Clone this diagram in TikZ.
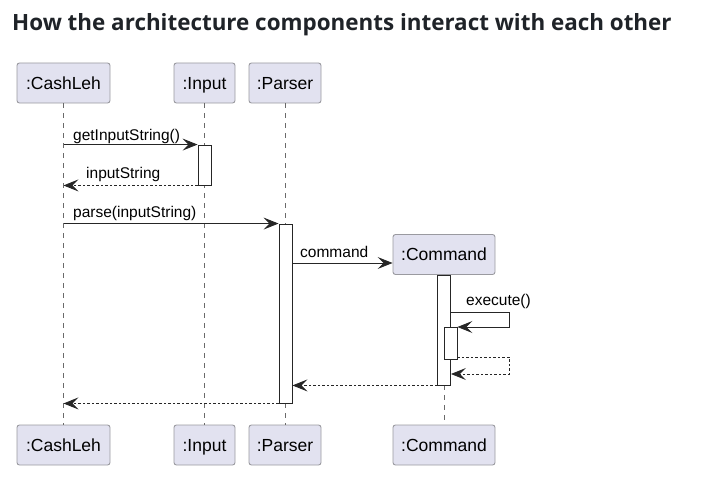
\documentclass[tikz,border=0pt]{standalone}
\usepackage{fontspec}
\setmainfont{Liberation Sans}
\newfontfamily\titlefont{Open Sans}
\usetikzlibrary{arrows.meta}
\definecolor{boxfill}{HTML}{E2E2F0}
\definecolor{boxline}{HTML}{9A9AA0}
\definecolor{titlecol}{HTML}{1F2328}
\definecolor{lifecol}{HTML}{6A6A6A}
\tikzset{
  part/.style={draw=boxline, fill=boxfill, rounded corners=2.5pt, line width=0.9pt,
    minimum height=40pt, inner sep=0pt, text height=12.5pt, text depth=0pt,
    font=\fontsize{17.5}{17.5}\selectfont, text=black},
  act/.style={draw=black!85, fill=white, line width=0.9pt, minimum width=13pt, inner sep=0pt},
  life/.style={draw=lifecol, line width=0.7pt, dash pattern=on 5pt off 5pt},
  msg/.style={draw=black!85, line width=0.9pt, -{Stealth[length=15pt,width=12pt,inset=6pt]}},
  ret/.style={msg, dash pattern=on 2.5pt off 2pt},
  lbl/.style={font=\fontsize{15.5}{15.5}\selectfont, inner sep=0pt, anchor=base west}
}
\begin{document}
\begin{tikzpicture}[x=1pt,y=-1pt]
\useasboundingbox (0,0) rectangle (701,487);
\node[anchor=base west, inner sep=0pt, text=titlecol, font=\titlefont\bfseries\fontsize{22.4}{22.4}\selectfont] (title) at (12,31) {How the architecture components interact with each other};
% participants
\node[part, minimum width=93pt] (c1) at (63.5,83) {:CashLeh};
\node[part, minimum width=61pt] (i1) at (204.5,83) {:Input};
\node[part, minimum width=72pt] (p1) at (285,83) {:Parser};
\node[part, minimum width=102pt] (k1) at (444,254.5) {:Command};
\node[part, minimum width=93pt] (c2) at (63.5,445) {:CashLeh};
\node[part, minimum width=61pt] (i2) at (204.5,445) {:Input};
\node[part, minimum width=72pt] (p2) at (285,445) {:Parser};
\node[part, minimum width=102pt] (k2) at (444,445) {:Command};
% lifelines
\draw[life] (c1.south) -- (c2.north);
\draw[life] (i1.south) -- (i2.north);
\draw[life] (p1.south) -- (p2.north);
\draw[life] (k1.south) -- (k2.north);
% activations
\node[act, minimum height=40pt] (a1) at (204.5,165) {};
\node[act, minimum height=179pt] (a2) at (285.5,313.5) {};
\node[act, minimum height=110pt] (a3) at (444,330) {};
\node[act, minimum height=32pt] (a4) at (450.5,343) {};
% messages
\draw[msg] (a1.north west -| c1) -- (a1.north west);
\node[lbl] (l1) at (73,140.5) {getInputString()};
\draw[ret] (a1.south west) -- (a1.south west -| c1);
\node[lbl] (l2) at (86,178.5) {inputString};
\draw[msg] (a2.north west -| c1) -- (a2.north west);
\node[lbl] (l3) at (73,217.5) {parse(inputString)};
\coordinate (kc) at (292,263);
\draw[msg] (a2.east |- kc) -- (kc -| k1.west);
\node[lbl] (l4) at (300,257) {command};
% self call
\coordinate (s1) at (509,312);
\coordinate (s2) at (509,327);
\draw[msg] (a3.east |- s1) -- (s1) -- (s2) -- (s2 -| a4.east);
\node[lbl] (l5) at (466,305.5) {execute()};
\coordinate (r1) at (509,357);
\coordinate (r2) at (509,374);
\draw[ret] (a4.east |- r1) -- (r1) -- (r2) -- (r2 -| a3.east);
\draw[ret] (a3.south west) -- (a3.south west -| a2.east);
\draw[ret] (a2.south west) -- (a2.south west -| c1);
\end{tikzpicture}
\end{document}
